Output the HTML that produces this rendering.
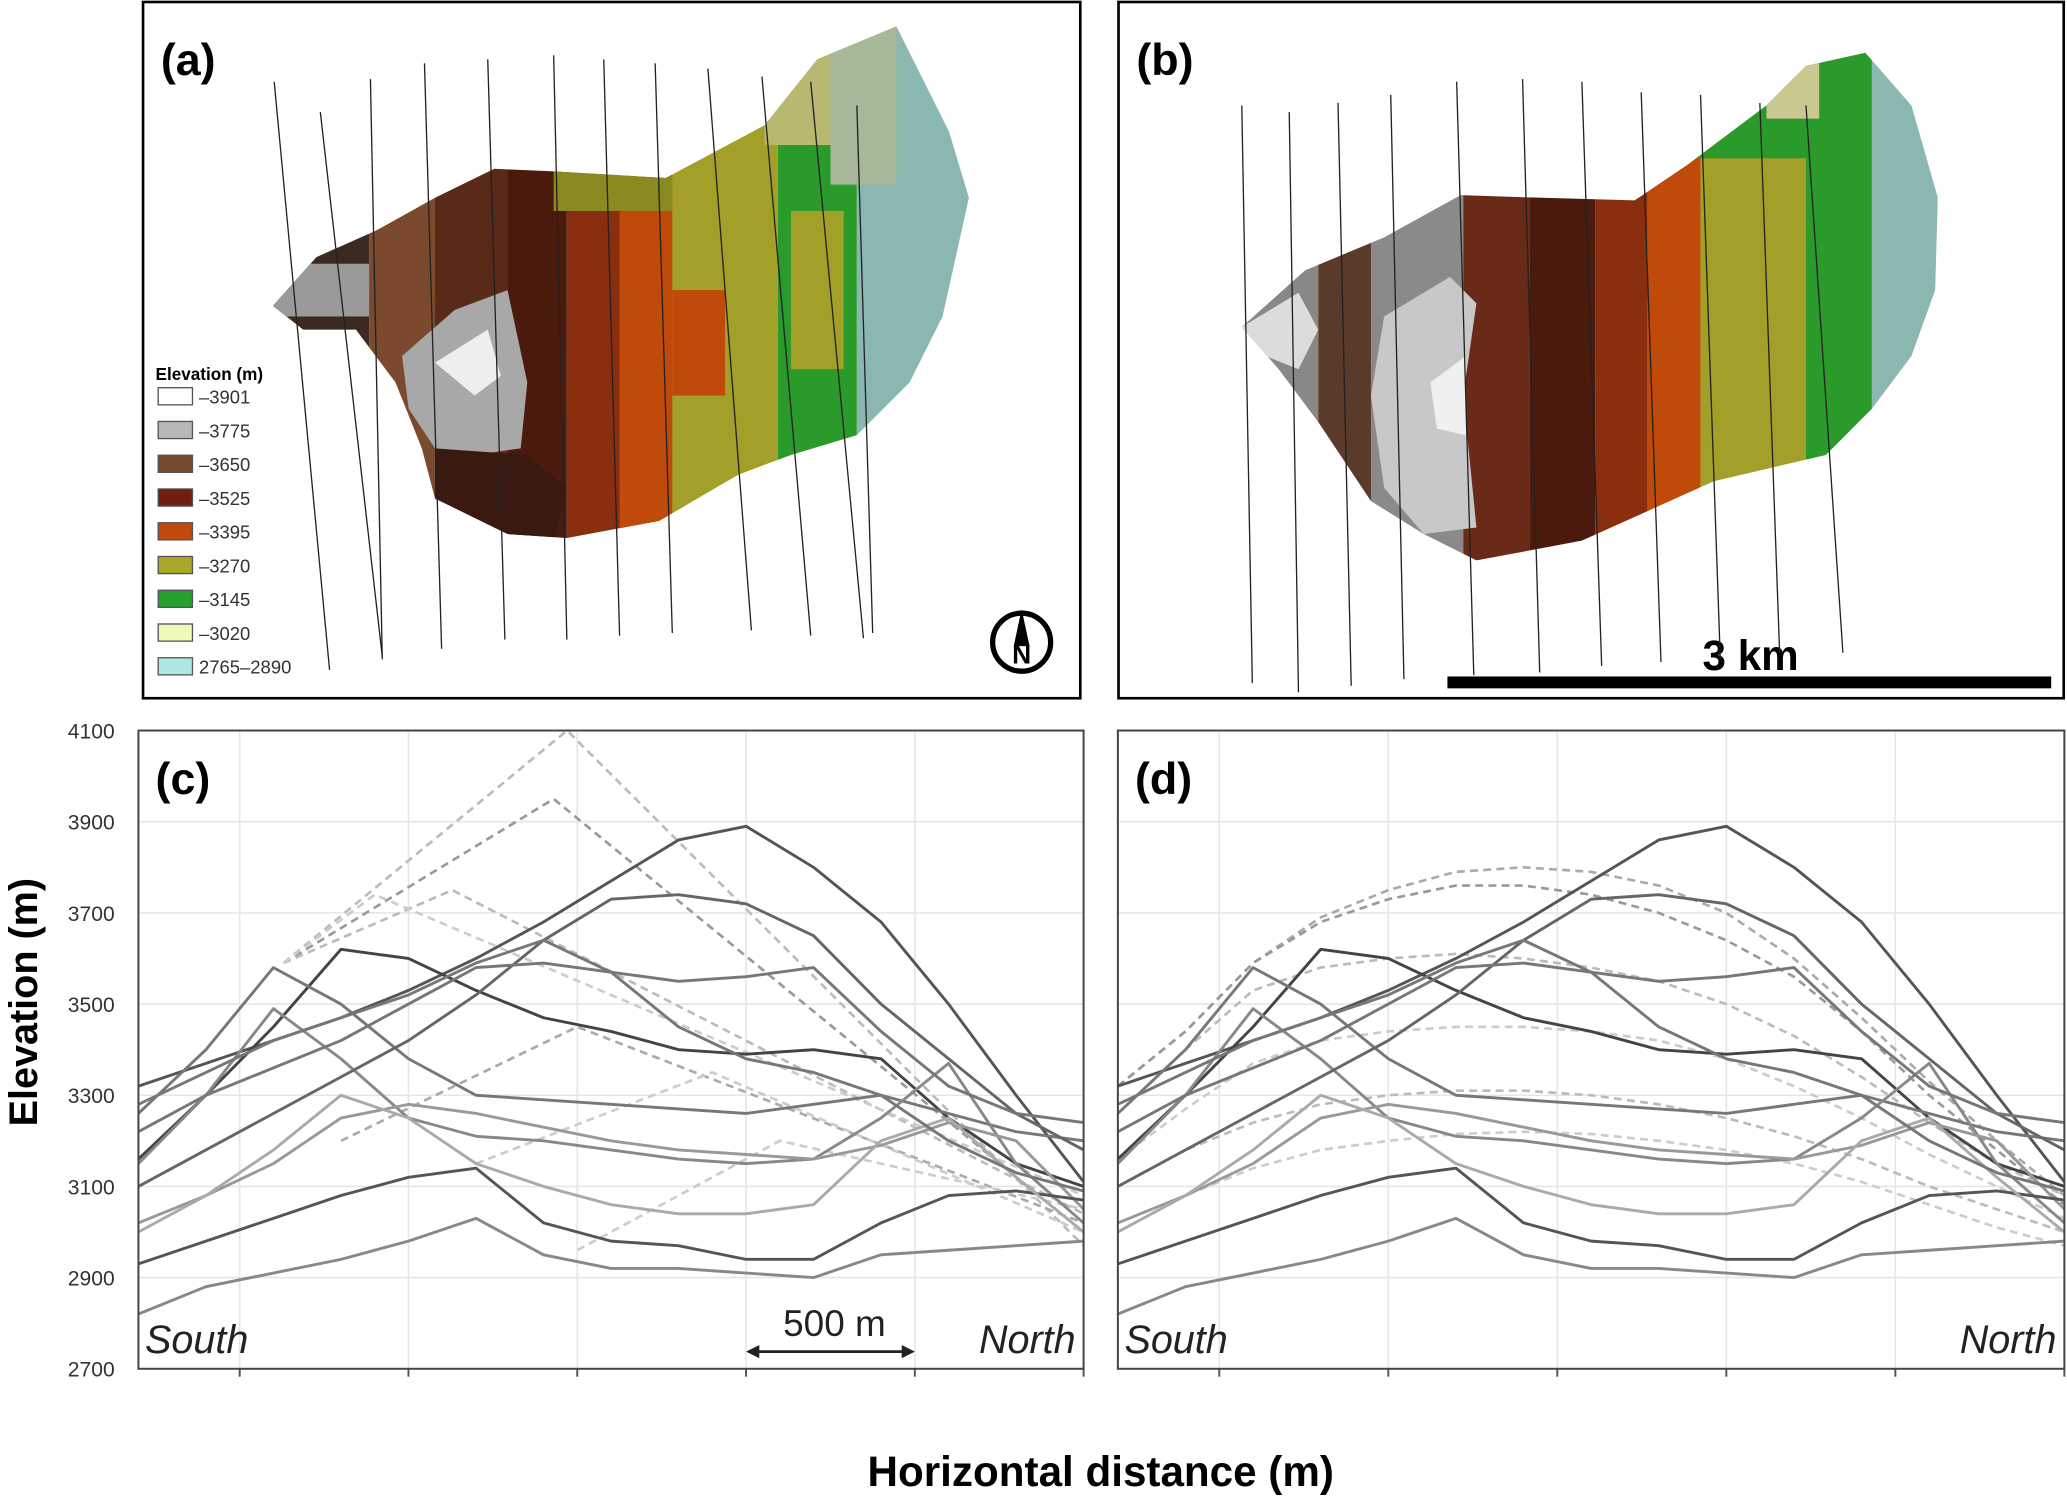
<!DOCTYPE html>
<html><head><meta charset="utf-8"><style>
html,body{margin:0;padding:0;background:#fff;width:2067px;height:1498px;overflow:hidden}
svg{display:block}
text{font-family:"Liberation Sans",sans-serif}
</style></head><body>
<svg id="fig" width="2067" height="1498" viewBox="0 0 1568 1136" preserveAspectRatio="none">
<defs>
<clipPath id="clipA"><polygon points="207,232 240,195 285,175 330,150 375,128 420,130 505,135 580,95 620,45 680,20 700,60 720,100 735,150 715,240 690,290 650,330 600,345 560,360 500,395 430,408 385,405 330,378 320,340 300,290 270,250 230,250"/></clipPath>
<clipPath id="clipB"><polygon points="942,248 990,205 1050,180 1108,148 1170,150 1240,152 1280,125 1340,80 1370,50 1415,40 1450,80 1470,150 1468,220 1450,270 1420,310 1385,345 1300,365 1200,410 1120,425 1080,405 1040,380 1000,320 970,280"/></clipPath>
<clipPath id="clipC"><rect x="105" y="554" width="717" height="484"/></clipPath>
<clipPath id="clipD"><rect x="848" y="554" width="718" height="484"/></clipPath>
</defs>
<g id="panelA">
<rect x="108.5" y="1.5" width="711" height="528" fill="#fff" stroke="#000" stroke-width="2"/>
<g clip-path="url(#clipA)">
<rect x="200" y="0" width="80" height="420" fill="#3a2a22"/>
<rect x="200" y="200" width="80" height="40" fill="#9a9a9a"/>
<rect x="280" y="0" width="50" height="420" fill="#7b4a2e"/>
<rect x="330" y="0" width="55" height="420" fill="#5a2a18"/>
<rect x="385" y="0" width="45" height="420" fill="#4a1a0c"/>
<rect x="430" y="0" width="80" height="420" fill="#8a2e10"/>
<rect x="470" y="140" width="50" height="270" fill="#c04a0a"/>
<rect x="420" y="120" width="90" height="40" fill="#8a8a20"/>
<rect x="510" y="0" width="80" height="420" fill="#a3a02a"/>
<rect x="510" y="220" width="40" height="80" fill="#c04a0a"/>
<rect x="590" y="0" width="60" height="420" fill="#2a9a2a"/>
<rect x="600" y="160" width="40" height="120" fill="#a3a02a"/>
<rect x="580" y="40" width="50" height="70" fill="#b8b870"/>
<rect x="650" y="0" width="90" height="420" fill="#8ab8b0"/>
<rect x="630" y="20" width="50" height="120" fill="#a8b89a"/>
<polygon points="305,270 345,235 385,220 400,290 395,340 360,345 330,340 310,310" fill="#a8a8a8"/>
<polygon points="330,275 370,250 380,285 360,300" fill="#eee"/>
<polygon points="330,340 400,345 430,370 420,410 330,410" fill="#3a1a10"/>
</g>
<text x="122" y="57" font-size="34" font-weight="bold">(a)</text>
<g id="legend">
<text x="118" y="288" font-size="13" font-weight="bold">Elevation (m)</text>
</g>
<g>
<circle cx="775" cy="487" r="22" fill="#fff" stroke="#000" stroke-width="4"/>
<polygon points="775,462 769,490 781,490" fill="#000"/>
<text x="775" y="503" font-size="20" font-weight="bold" text-anchor="middle">N</text>
</g>
</g>
<g id="panelB">
<rect x="848.5" y="1.5" width="717" height="528" fill="#fff" stroke="#000" stroke-width="2"/>
<g clip-path="url(#clipB)">
<rect x="930" y="0" width="70" height="440" fill="#888"/>
<rect x="1000" y="0" width="40" height="440" fill="#5a3a2a"/>
<rect x="1040" y="0" width="70" height="440" fill="#8a8a8a"/>
<rect x="1110" y="0" width="50" height="440" fill="#6a2a18"/>
<rect x="1160" y="0" width="50" height="440" fill="#4a1a0c"/>
<rect x="1210" y="0" width="40" height="440" fill="#8a2e10"/>
<rect x="1250" y="0" width="40" height="440" fill="#c04a0a"/>
<rect x="1290" y="0" width="80" height="440" fill="#a3a02a"/>
<rect x="1280" y="60" width="90" height="60" fill="#2a9a2a"/>
<rect x="1370" y="0" width="50" height="440" fill="#2a9a2a"/>
<rect x="1340" y="40" width="40" height="50" fill="#c8c890"/>
<rect x="1420" y="0" width="60" height="440" fill="#8ab8b0"/>
<polygon points="1050,240 1100,210 1120,230 1110,300 1120,400 1080,405 1050,370 1040,300" fill="#c8c8c8"/>
<polygon points="1085,290 1112,270 1112,330 1090,325" fill="#f0f0f0"/>
<polygon points="942,248 985,222 1000,250 985,280 960,270" fill="#dcdcdc"/>
</g>
<text x="862" y="57" font-size="34" font-weight="bold">(b)</text>
<rect x="1098" y="513" width="458" height="9" fill="#000"/>
<text x="1328" y="508" font-size="32" font-weight="bold" text-anchor="middle">3 km</text>
</g>
<g id="transects"></g>
<g id="chartC"></g>
<g id="chartD"></g>
<text x="0" y="0" transform="translate(28,760) rotate(-90)" font-size="30" font-weight="bold" text-anchor="middle">Elevation (m)</text>
<text x="835" y="1127" font-size="32" font-weight="bold" text-anchor="middle">Horizontal distance (m)</text>
</svg>
<script>
const NS='http://www.w3.org/2000/svg';
const legendLabels=['–3901','–3775','–3650','–3525','–3395','–3270','–3145','–3020','2765–2890'];
const legendColors=['#ffffff','#b8b8b8','#7b4a2e','#6e1f0f','#c04a0a','#a8a82a','#22a030','#eefab8','#aee8e4'];
const transectA=[[208,62,250,508],[243,85,290,498],[281,60,290,500],[322,48,335,492],[370,45,383,485],[420,42,430,485],[458,45,470,482],[497,48,510,480],[537,52,570,478],[578,58,615,482],[615,62,655,484],[650,80,662,480]];
const transectB=[[942,80,950,518],[978,85,985,525],[1015,78,1025,520],[1055,72,1065,515],[1105,62,1118,512],[1155,60,1168,510],[1200,62,1215,505],[1245,70,1260,502],[1290,72,1305,500],[1335,78,1350,495],[1370,80,1398,495]];
const dist=[0,200,400,600,800,1000,1200,1400,1600,1800,2000,2200,2400,2600,2800];
const s1=[3320,3370,3420,3470,3530,3600,3680,3770,3860,3890,3800,3680,3500,3300,3110];
const s2=[3160,3300,3450,3620,3600,3530,3470,3440,3400,3390,3400,3380,3250,3150,3100];
const s3=[3260,3400,3580,3500,3380,3300,3290,3280,3270,3260,3280,3300,3260,3220,3200];
const s4=[3150,3300,3490,3380,3250,3210,3200,3180,3160,3150,3160,3250,3370,3150,3020];
const s5=[3100,3180,3260,3340,3420,3520,3640,3730,3740,3720,3650,3500,3380,3260,3180];
const s6=[3220,3300,3360,3420,3500,3580,3590,3570,3550,3560,3580,3440,3320,3260,3240];
const s7=[3020,3080,3150,3250,3280,3260,3230,3200,3180,3170,3160,3190,3240,3200,3050];
const s8=[2930,2980,3030,3080,3120,3140,3020,2980,2970,2940,2940,3020,3080,3090,3070];
const s9=[2820,2880,2910,2940,2980,3030,2950,2920,2920,2910,2900,2950,2960,2970,2980];
const s10=[3000,3080,3180,3300,3250,3150,3100,3060,3040,3040,3060,3200,3250,3120,3000];
const s11=[3280,3350,3420,3470,3520,3590,3640,3570,3450,3380,3350,3300,3200,3130,3090];
const solidSeries=[s1,s2,s3,s4,s5,s6,s7,s8,s9,s10,s11];
const solidShade=['#555','#444','#777','#888','#666','#777','#999','#555','#888','#aaa','#777'];
// straight dashed interpolations in (c): [distance, elevation] vertices
const dashC1=[[430,3590],[1270,4100],[2800,2970]];
const dashC2=[[430,3590],[1230,3950],[2800,3000]];
const dashC3=[[430,3590],[930,3750],[2800,3040]];
const dashC4=[[430,3590],[700,3740],[2800,3080]];
const dashC5=[[600,3200],[1300,3450],[2800,3020]];
const dashC6=[[1000,3150],[1700,3350],[2800,3000]];
const dashC7=[[1300,2960],[1900,3200],[2800,3050]];
const dashSeriesC=[dashC1,dashC2,dashC3,dashC4,dashC5,dashC6,dashC7];
// arched dashed interpolations in (d)
const dashD1=[3320,3440,3590,3690,3750,3790,3800,3790,3760,3700,3600,3470,3330,3200,3080];
const dashD2=[3320,3440,3590,3680,3730,3760,3760,3740,3700,3640,3560,3440,3300,3180,3060];
const dashD3=[3260,3400,3530,3580,3600,3610,3600,3580,3550,3500,3430,3340,3240,3150,3080];
const dashD4=[3160,3270,3370,3420,3440,3450,3450,3440,3420,3380,3320,3250,3170,3100,3030];
const dashD5=[3100,3180,3240,3280,3300,3310,3310,3300,3280,3250,3210,3160,3100,3050,3000];
const dashD6=[3000,3080,3140,3180,3200,3215,3220,3215,3200,3180,3150,3110,3060,3010,2970];
const dashSeriesD=[dashD1,dashD2,dashD3,dashD4,dashD5,dashD6];
const yTicks=[2700,2900,3100,3300,3500,3700,3900,4100];
const xGrid=[300,800,1300,1800,2300,2800];

function mk(tag,attrs,parent){const e=document.createElementNS(NS,tag);for(const k in attrs)e.setAttribute(k,attrs[k]);parent.appendChild(e);return e;}

// legend
const lg=document.getElementById('legend');
legendLabels.forEach((lab,i)=>{
  const y=294+i*25.6;
  const r=mk('rect',{x:120,y:y,width:26,height:13,fill:legendColors[i],stroke:'#555','stroke-width':1},lg);
  
  
  const t=mk('text',{x:151,y:y+12,'font-size':14,fill:'#333'},lg);
  t.textContent=lab;
  
  
});
// transects
const tg=document.getElementById('transects');
transectA.concat(transectB).forEach(l=>{
  const e=mk('line',{x1:l[0],y1:l[1],x2:l[2],y2:l[3],stroke:'#222','stroke-width':1},tg);
  
  
});

function chart(gid,x0,x1,clip,label,dashedStraight,dashedArch){
  const g=document.getElementById(gid);
  const yTop=554,yBot=1038;
  const xs=d=>x0+(d/2800)*(x1-x0);
  const ys=v=>yBot-(v-2700)/1400*(yBot-yTop);
  yTicks.forEach(v=>{
    const l=mk('line',{x1:x0,x2:x1,y1:ys(v),y2:ys(v),stroke:'#e6e6e6','stroke-width':1.2},g);
    
    
    if(gid==='chartC'){
      const t=mk('text',{x:x0-18,y:ys(v)+6,'font-size':16,'text-anchor':'end',fill:'#333'},g);
      t.textContent=v;
      
      
    }
  });
  xGrid.forEach(d=>{
    const l=mk('line',{x1:xs(d),x2:xs(d),y1:yTop,y2:yBot,stroke:'#e6e6e6','stroke-width':1.2},g);
    
    
    const tk=mk('line',{x1:xs(d),x2:xs(d),y1:yBot,y2:yBot+6,stroke:'#555','stroke-width':1.5},g);
    
    
  });
  const lines=mk('g',{'clip-path':'url(#'+clip+')'},g);
  if(dashedStraight){
    dashedStraight.forEach((s,i)=>{
      const p=mk('polyline',{points:s.map(q=>xs(q[0])+','+ys(q[1])).join(' '),fill:'none',stroke:['#bbb','#999','#bbb','#ccc','#aaa','#ccc','#ccc'][i],'stroke-width':2,'stroke-dasharray':'6,4'},lines);
      
      
    });
  }
  if(dashedArch){
    dashedArch.forEach((s,i)=>{
      const p=mk('polyline',{points:s.map((v,j)=>xs(dist[j])+','+ys(v)).join(' '),fill:'none',stroke:['#aaa','#999','#bbb','#ccc','#bbb','#ccc'][i],'stroke-width':2,'stroke-dasharray':'6,4'},lines);
      
      
    });
  }
  solidSeries.forEach((s,i)=>{
    const p=mk('polyline',{points:s.map((v,j)=>xs(dist[j])+','+ys(v)).join(' '),fill:'none',stroke:solidShade[i],'stroke-width':2.2,'stroke-linejoin':'round'},lines);
    
    
  });
  const fr=mk('rect',{x:x0,y:yTop,width:x1-x0,height:yBot-yTop,fill:'none',stroke:'#444','stroke-width':1.5},g);
  
  
  const lab=mk('text',{x:x0+13,y:602,'font-size':34,'font-weight':'bold'},g);
  lab.textContent=label;
  
  
  const so=mk('text',{x:x0+5,y:1026,'font-size':30,'font-style':'italic',fill:'#222'},g);
  so.textContent='South';
  
  
  const no=mk('text',{x:x1-6,y:1026,'font-size':30,'font-style':'italic','text-anchor':'end',fill:'#222'},g);
  no.textContent='North';
  
  
  return g;
}
chart('chartC',105,822,'clipC','(c)',dashSeriesC,null);
const gd=chart('chartD',848,1566,'clipD','(d)',null,dashSeriesD);
// 500 m scale in (c)
const gc=document.getElementById('chartC');
const sb=mk('line',{x1:568,x2:692,y1:1025,y2:1025,stroke:'#222','stroke-width':2},gc);


mk('polygon',{points:'566,1025 576,1020 576,1030',fill:'#222'},gc);
mk('polygon',{points:'694,1025 684,1020 684,1030',fill:'#222'},gc);
const sbt=mk('text',{x:633,y:1013,'font-size':28,'text-anchor':'middle',fill:'#222'},gc);
sbt.textContent='500 m';


</script>
</body></html>
